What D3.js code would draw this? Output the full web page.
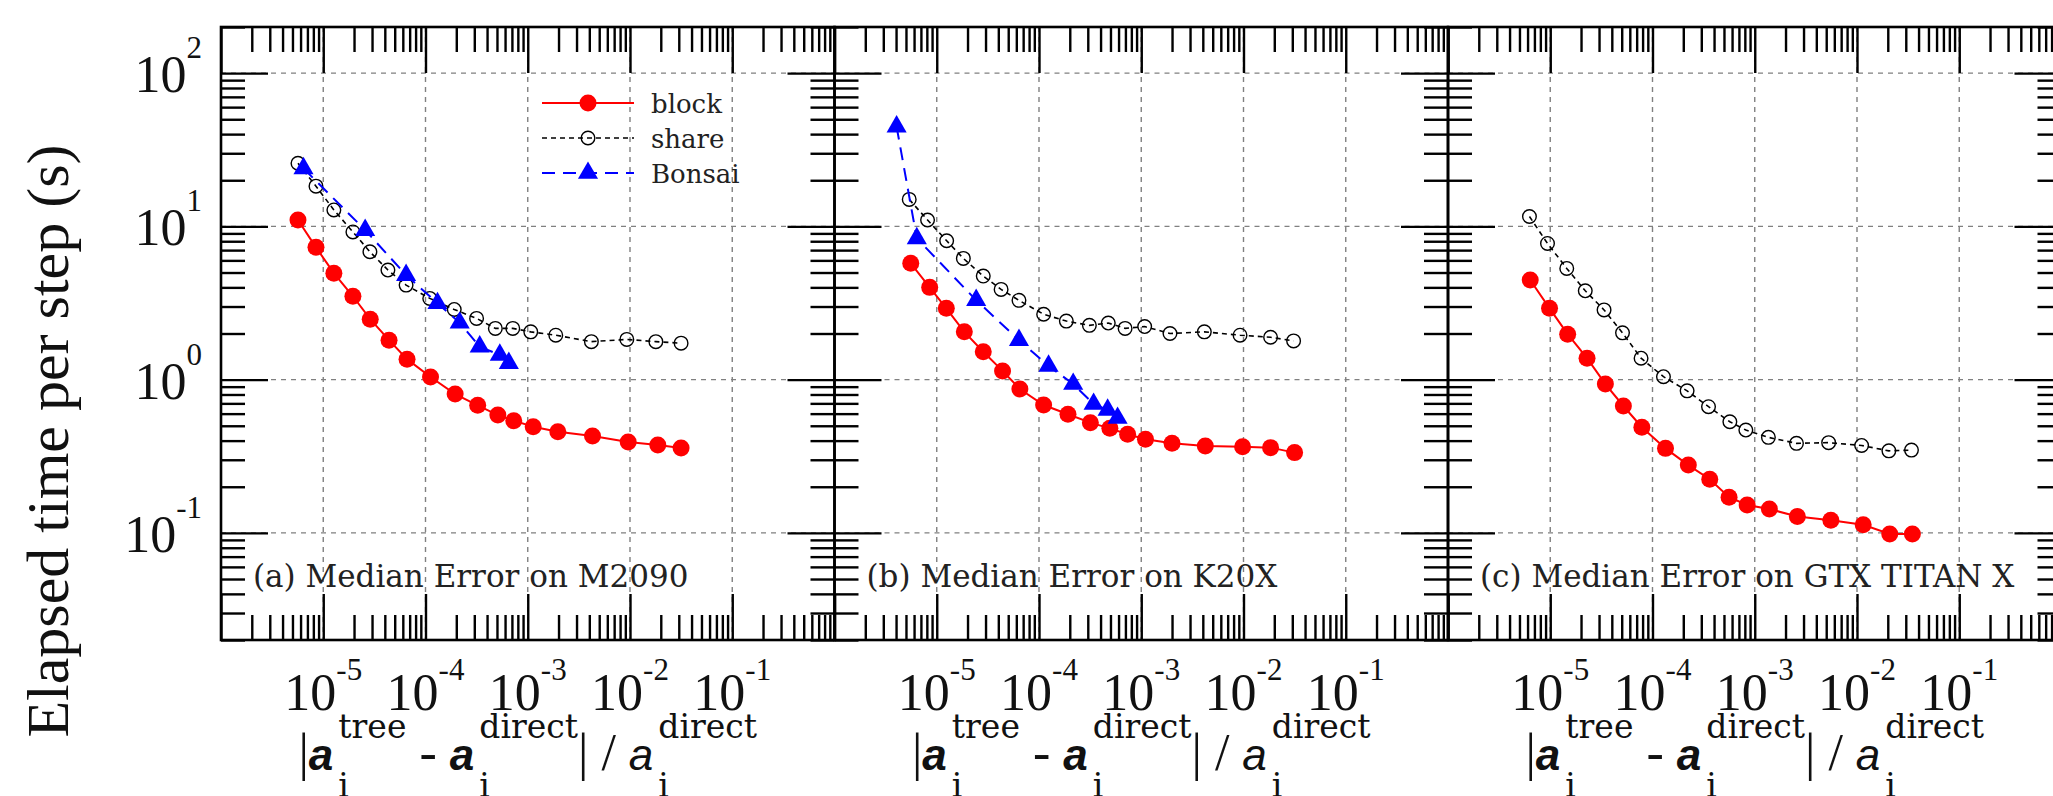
<!DOCTYPE html>
<html><head><meta charset="utf-8">
<script src="https://cdn.jsdelivr.net/npm/d3@7"></script>
<style>body{margin:0;background:#fff}svg{display:block}text{white-space:pre}</style>
</head><body>
<svg id="chart" width="2053" height="796"></svg>
<script>
// ---------------- data ----------------
const panelLabels = ["(a) Median Error on M2090", "(b) Median Error on K20X", "(c) Median Error on GTX TITAN X"];
const seriesNames = ["block", "share", "Bonsai"];
const yTickExps = [-1, 0, 1, 2];
const xTickExps = [-5, -4, -3, -2, -1];
const yAxisTitle = "Elapsed time per step (s)";

const m2090BlockErr  = [5.66e-6, 8.49e-6, 1.27e-5, 1.95e-5, 2.88e-5, 4.4e-5, 6.6e-5, 1.12e-4, 1.95e-4, 3.24e-4, 5.1e-4, 7.3e-4, 1.13e-3, 1.97e-3, 4.3e-3, 9.6e-3, 1.87e-2, 3.16e-2];
const m2090BlockTime = [11.0, 7.3, 4.95, 3.5, 2.48, 1.81, 1.36, 1.04, 0.805, 0.68, 0.587, 0.54, 0.493, 0.457, 0.428, 0.392, 0.374, 0.358];
const m2090ShareErr  = [5.66e-6, 8.49e-6, 1.27e-5, 1.95e-5, 2.86e-5, 4.29e-5, 6.46e-5, 1.10e-4, 1.91e-4, 3.16e-4, 4.82e-4, 7.14e-4, 1.07e-3, 1.88e-3, 4.19e-3, 9.31e-3, 1.79e-2, 3.16e-2];
const m2090ShareTime = [25.8, 18.3, 12.8, 9.2, 6.83, 5.19, 4.14, 3.39, 2.87, 2.51, 2.16, 2.16, 2.05, 1.95, 1.77, 1.83, 1.77, 1.73];
const m2090BonsaiErr  = [6.41e-6, 2.57e-5, 6.46e-5, 1.31e-4, 2.16e-4, 3.39e-4, 5.33e-4, 6.53e-4];
const m2090BonsaiTime = [23.9, 9.46, 4.81, 3.15, 2.35, 1.64, 1.45, 1.28];

const k20xBlockErr  = [5.57e-6, 8.53e-6, 1.24e-5, 1.86e-5, 2.85e-5, 4.4e-5, 6.5e-5, 1.11e-4, 1.92e-4, 3.18e-4, 4.93e-4, 7.36e-4, 1.10e-3, 2.0e-3, 4.23e-3, 9.8e-3, 1.84e-2, 3.16e-2];
const k20xBlockTime = [5.74, 4.0, 2.92, 2.05, 1.52, 1.14, 0.869, 0.683, 0.594, 0.524, 0.481, 0.44, 0.408, 0.384, 0.369, 0.365, 0.36, 0.334];
const k20xShareErr  = [5.38e-6, 8.13e-6, 1.25e-5, 1.82e-5, 2.85e-5, 4.26e-5, 6.37e-5, 1.11e-4, 1.85e-4, 3.11e-4, 4.76e-4, 6.95e-4, 1.08e-3, 1.91e-3, 4.14e-3, 9.25e-3, 1.84e-2, 3.09e-2];
const k20xShareTime = [15.0, 11.0, 8.06, 6.18, 4.74, 3.88, 3.29, 2.67, 2.41, 2.26, 2.34, 2.16, 2.22, 2.0, 2.05, 1.95, 1.89, 1.79];
const k20xBonsaiErr  = [4.05e-6, 6.38e-6, 2.43e-5, 6.37e-5, 1.24e-4, 2.16e-4, 3.42e-4, 4.69e-4, 5.87e-4];
const k20xBonsaiTime = [44.7, 8.35, 3.3, 1.81, 1.23, 0.936, 0.693, 0.634, 0.562];

const titanBlockErr  = [6.37e-6, 9.84e-6, 1.48e-5, 2.29e-5, 3.46e-5, 5.19e-5, 7.87e-5, 1.34e-4, 2.24e-4, 3.63e-4, 5.61e-4, 8.43e-4, 1.39e-3, 2.61e-3, 5.55e-3, 1.15e-2, 2.09e-2, 3.48e-2];
const titanBlockTime = [4.47, 2.92, 1.98, 1.38, 0.936, 0.673, 0.489, 0.356, 0.277, 0.224, 0.171, 0.152, 0.143, 0.128, 0.121, 0.113, 0.0984, 0.0984];
const titanShareErr  = [6.26e-6, 9.4e-6, 1.45e-5, 2.2e-5, 3.36e-5, 5.09e-5, 7.73e-5, 1.28e-4, 2.18e-4, 3.53e-4, 5.71e-4, 8.18e-4, 1.36e-3, 2.56e-3, 5.28e-3, 1.11e-2, 2.05e-2, 3.41e-2];
const titanShareTime = [11.6, 7.74, 5.32, 3.80, 2.85, 2.02, 1.38, 1.045, 0.845, 0.666, 0.531, 0.469, 0.42, 0.384, 0.388, 0.372, 0.343, 0.347];

// ---------------- layout ----------------
const W = 2053, H = 796;
const TOP = 27, BOTTOM = 640, PW = 613.5;
const panelX0 = [221, 834.5, 1448];
const SERIF = "'Liberation Serif', 'Times New Roman', serif";
const WIDE = "'DejaVu Serif', serif";
const GRID = "#808080";

const panels = [
  {label: panelLabels[0], series: [[m2090BlockErr, m2090BlockTime], [m2090ShareErr, m2090ShareTime], [m2090BonsaiErr, m2090BonsaiTime]]},
  {label: panelLabels[1], series: [[k20xBlockErr, k20xBlockTime], [k20xShareErr, k20xShareTime], [k20xBonsaiErr, k20xBonsaiTime]]},
  {label: panelLabels[2], series: [[titanBlockErr, titanBlockTime], [titanShareErr, titanShareTime], null]}
];
const styles = [
  {color: "#ff0000", dash: null, width: 2, marker: "disc"},
  {color: "#000000", dash: "5,4", width: 1.6, marker: "ring"},
  {color: "#0000ff", dash: "13,8", width: 2, marker: "tri"}
];

const svg = d3.select("#chart");
svg.append("rect").attr("width", W).attr("height", H).attr("fill", "#fff");

const y = d3.scaleLog().domain([0.02, 200]).range([BOTTOM, TOP]);
const yAll = y.ticks(20);
const isMajor = v => Math.abs(Math.log10(v) - Math.round(Math.log10(v))) < 1e-9;
const yMajor = yAll.filter(isMajor), yMinor = yAll.filter(v => !isMajor(v));

function drawMarker(g, kind, color, cx, cy) {
  if (kind === "disc") {
    g.append("circle").attr("cx", cx).attr("cy", cy).attr("r", 8.5).attr("fill", color);
  } else if (kind === "ring") {
    g.append("circle").attr("cx", cx).attr("cy", cy).attr("r", 6.8).attr("fill", "none")
      .attr("stroke", color).attr("stroke-width", 1.4);
  } else {
    g.append("path").attr("d", d3.symbol(d3.symbolTriangle, 175)())
      .attr("transform", `translate(${cx},${cy})`).attr("fill", color);
  }
}

panels.forEach((p, pi) => {
  const x0 = panelX0[pi];
  const x = d3.scaleLog().domain([1e-6, 1]).range([x0, x0 + PW]);
  const g = svg.append("g");
  const xAll = x.ticks(20);
  const xMajor = xAll.filter(isMajor), xMinor = xAll.filter(v => !isMajor(v));

  // grid
  const grid = g.append("g").attr("stroke", GRID).attr("stroke-width", 1.4).attr("stroke-dasharray", "5,5");
  grid.selectAll("line.gx").data(xTickExps.map(e => Math.pow(10, e))).join("line")
    .attr("x1", d => x(d)).attr("x2", d => x(d)).attr("y1", TOP).attr("y2", BOTTOM);
  grid.selectAll("line.gy").data(yTickExps.map(e => Math.pow(10, e))).join("line")
    .attr("x1", x0).attr("x2", x0 + PW).attr("y1", d => y(d)).attr("y2", d => y(d));

  // data
  p.series.forEach((s, si) => {
    if (!s) return;
    const st = styles[si];
    const pts = s[0].map((e, i) => [x(e), y(s[1][i])]);
    g.append("path").attr("d", d3.line()(pts)).attr("fill", "none")
      .attr("stroke", st.color).attr("stroke-width", st.width)
      .attr("stroke-dasharray", st.dash);
    pts.forEach(pt => drawMarker(g, st.marker, st.color, pt[0], pt[1]));
  });

  // ticks via axes
  const tickStyle = a => a.call(s => s.select(".domain").remove())
    .call(s => s.selectAll(".tick line").attr("stroke", "#000").attr("stroke-width", 2.4))
    .call(s => s.selectAll(".tick text").remove());
  g.append("g").attr("transform", `translate(0,${TOP})`).call(d3.axisTop(x).tickValues(xMinor).tickSize(-25)).call(tickStyle);
  g.append("g").attr("transform", `translate(0,${TOP})`).call(d3.axisTop(x).tickValues(xMajor).tickSize(-46)).call(tickStyle);
  g.append("g").attr("transform", `translate(0,${BOTTOM})`).call(d3.axisBottom(x).tickValues(xMinor).tickSize(-25)).call(tickStyle);
  g.append("g").attr("transform", `translate(0,${BOTTOM})`).call(d3.axisBottom(x).tickValues(xMajor).tickSize(-46)).call(tickStyle);
  g.append("g").attr("transform", `translate(${x0},0)`).call(d3.axisLeft(y).tickValues(yMinor).tickSize(-24)).call(tickStyle);
  g.append("g").attr("transform", `translate(${x0},0)`).call(d3.axisLeft(y).tickValues(yMajor).tickSize(-47)).call(tickStyle);
  g.append("g").attr("transform", `translate(${x0 + PW},0)`).call(d3.axisRight(y).tickValues(yMinor).tickSize(-24)).call(tickStyle);
  g.append("g").attr("transform", `translate(${x0 + PW},0)`).call(d3.axisRight(y).tickValues(yMajor).tickSize(-47)).call(tickStyle);

  // frame
  g.append("rect").attr("x", x0).attr("y", TOP).attr("width", PW).attr("height", BOTTOM - TOP)
    .attr("fill", "none").attr("stroke", "#000").attr("stroke-width", 2.6);

  // x tick labels
  xTickExps.forEach(e => {
    const t = g.append("text").attr("x", x(Math.pow(10, e))).attr("y", 710)
      .attr("text-anchor", "middle").attr("font-family", SERIF).attr("font-size", 52).attr("fill", "#111");
    t.append("tspan").text("10");
    t.append("tspan").attr("dy", -30).attr("font-size", 31).text(String(e));
  });

  // panel label
  g.append("text").attr("x", x0 + 32).attr("y", 587).attr("font-family", WIDE)
    .attr("font-size", 31).attr("fill", "#222").text(p.label);

  // x axis title (enhanced-text layout)
  xTitle(g, x0 + PW / 2);
});

function xTitle(g, cx) {
  const main = {family: SERIF, size: 52, weight: "normal", style: "normal"};
  const bold = {family: "'Liberation Sans', Arial, sans-serif", size: 44, weight: "bold", style: "italic"};
  const ital = {family: "'Liberation Sans', Arial, sans-serif", size: 44, weight: "normal", style: "italic"};
  const pieces = [
    {t: "|", f: main}, {t: "a", f: bold}, {sub: "i", sup: "tree"},
    {t: " - ", f: main}, {t: "a", f: bold}, {sub: "i", sup: "direct"},
    {t: "| / ", f: main}, {t: "a", f: ital}, {sub: "i", sup: "direct"}
  ];
  const BASE = 770, SUPB = 738, SUBB = 797, SS = 33;
  const grp = g.append("g");
  let cur = 0;
  const mk = (txt, f, yb) => grp.append("text").attr("x", 0).attr("y", yb)
    .attr("font-family", f.family).attr("font-size", f.size).attr("font-weight", f.weight)
    .attr("font-style", f.style).attr("fill", "#111").text(txt);
  const sub = {family: WIDE, size: SS, weight: "normal", style: "normal"};
  pieces.forEach(pc => {
    if (pc.t !== undefined) {
      const el = mk(pc.t, pc.f, BASE).attr("x", cur);
      cur += el.node().getComputedTextLength();
    } else {
      cur += 5;
      const a = mk(pc.sub, sub, SUBB).attr("x", cur);
      const b = mk(pc.sup, sub, SUPB).attr("x", cur);
      cur += Math.max(a.node().getComputedTextLength(), b.node().getComputedTextLength());
    }
  });
  grp.attr("transform", `translate(${cx - cur / 2},0)`);
}

// y tick labels (left panel only)
yTickExps.forEach(e => {
  const t = svg.append("text").attr("x", 202).attr("y", y(Math.pow(10, e)) + 19)
    .attr("text-anchor", "end").attr("font-family", SERIF).attr("font-size", 52).attr("fill", "#111");
  t.append("tspan").text("10");
  t.append("tspan").attr("dy", -34).attr("font-size", 31).text(String(e));
});

// y axis title
svg.append("text").attr("transform", "translate(68,441) rotate(-90)")
  .attr("text-anchor", "middle").attr("font-family", SERIF).attr("font-size", 60)
  .attr("fill", "#111").text(yAxisTitle);

// legend (panel a)
const legRows = [103, 138, 173];
seriesNames.forEach((n, i) => {
  const st = styles[i];
  const lg = svg.append("g");
  lg.append("line").attr("x1", 542).attr("x2", 634).attr("y1", legRows[i]).attr("y2", legRows[i])
    .attr("stroke", st.color).attr("stroke-width", st.width).attr("stroke-dasharray", st.dash);
  drawMarker(lg, st.marker, st.color, 588, legRows[i]);
  lg.append("text").attr("x", 651).attr("y", legRows[i] + 10).attr("font-family", WIDE)
    .attr("font-size", 26).attr("fill", "#222").text(n);
});
</script>
</body></html>
